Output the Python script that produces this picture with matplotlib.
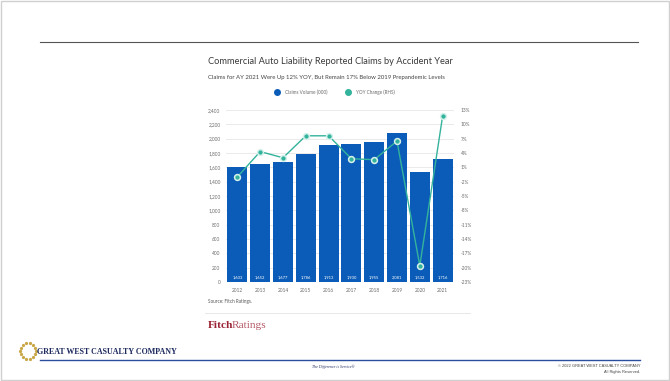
import numpy as np
import matplotlib.pyplot as plt
from matplotlib.ticker import FuncFormatter

# claims data by accident year
years = ["2012", "2013", "2014", "2015", "2016", "2017", "2018", "2019", "2020", "2021"]
claims_volume = [1603, 1652, 1677, 1786, 1913, 1930, 1955, 2081, 1532, 1716]
yoy_change = [-1.0, 4.3, 3.0, 7.6, 7.6, 2.8, 2.6, 6.5, -19.6, 11.7]

left_ticks = list(range(0, 2401, 200))
right_ticks = list(range(-23, 14, 3))

W, H = 670, 381
bar_blue = "#0b5cb8"
teal = "#34b39c"
grey_txt = "#6a6a6a"

fig = plt.figure(figsize=(W / 100, H / 100), dpi=100)
fig.patch.set_facecolor("white")

def px(x, y):
    return x / W, 1 - y / H

# slide frame and header rule
fig.add_artist(plt.Rectangle((0.002, 0.003), 0.996, 0.994, transform=fig.transFigure,
                             fill=False, edgecolor="#d0d0d0", lw=1))
fig.add_artist(plt.Line2D([px(40, 0)[0], px(638, 0)[0]], [px(0, 42)[1]] * 2,
                          color="#555555", lw=0.8))

# chart title block
fig.text(*px(208, 62), "Commercial Auto Liability Reported Claims by Accident Year",
         fontsize=6.7, family="Lato", color="#3a3a3a", va="center")
fig.text(*px(208, 78), "Claims for AY 2021 Were Up 12% YOY, But Remain 17% Below 2019 Prepandemic Levels",
         fontsize=4.3, family="Lato", color="#444444", va="center")
fig.add_artist(plt.Line2D([px(277, 0)[0]], [px(0, 92)[1]], marker="o", ms=4,
                          color=bar_blue, transform=fig.transFigure))
fig.text(*px(285, 92), "Claims Volume (000)", fontsize=3.3, family="Lato", color=grey_txt, va="center")
fig.add_artist(plt.Line2D([px(348, 0)[0]], [px(0, 92)[1]], marker="o", ms=4,
                          color=teal, transform=fig.transFigure))
fig.text(*px(356, 92), "YOY Change (RHS)", fontsize=3.3, family="Lato", color=grey_txt, va="center")

# main axes
x0, y0 = px(226, 282)
x1, y1 = px(454, 110)
ax = fig.add_axes([x0, y0, x1 - x0, y1 - y0])
x = np.arange(len(years))
ax.bar(x, claims_volume, width=0.88, color=bar_blue, zorder=2)
for xi, v in zip(x, claims_volume):
    ax.text(xi, 70, f"{v:,}", ha="center", va="center", color="white",
            fontsize=3.0, family="Lato", zorder=3)
ax.set_xlim(-0.5, len(years) - 0.5)
ax.set_ylim(0, 2400)
ax.set_yticks(left_ticks)
ax.yaxis.set_major_formatter(FuncFormatter(lambda v, p: f"{int(v):,}"))
ax.set_xticks(x)
ax.set_xticklabels(years)
ax.grid(axis="y", color="#e6e6e6", lw=0.6, zorder=0)
for s in ax.spines.values():
    s.set_visible(False)
ax.tick_params(length=0, labelsize=3.4, labelcolor=grey_txt, pad=4)
for lbl in ax.get_xticklabels() + ax.get_yticklabels():
    lbl.set_family("Lato")
ax.set_facecolor("none")

ax2 = ax.twinx()
ax2.plot(x, yoy_change, color=teal, lw=1.0, marker="o", ms=4.2,
         mfc=teal, mec="#d6f1ec", mew=1.1, zorder=4)
ax2.set_ylim(-23, 13)
ax2.set_yticks(right_ticks)
ax2.yaxis.set_major_formatter(FuncFormatter(lambda v, p: f"{int(v)}%"))
for s in ax2.spines.values():
    s.set_visible(False)
ax2.tick_params(length=0, labelsize=3.4, labelcolor=grey_txt, pad=5)
for lbl in ax2.get_yticklabels():
    lbl.set_family("Lato")

# source note and Fitch logo
fig.text(*px(208, 302), "Source: Fitch Ratings.", fontsize=3.3, family="Lato", color="#555555", va="center")
fig.add_artist(plt.Line2D([px(205, 0)[0], px(470, 0)[0]], [px(0, 313)[1]] * 2,
                          color="#e4e4e4", lw=0.6))
fig.text(*px(208, 326), "Fitch", fontsize=8.2, family="Liberation Serif", weight="bold",
         color="#9b2335", va="center")
fig.text(*px(232, 326), "Ratings", fontsize=8.2, family="Liberation Serif",
         color="#b55a68", va="center")

# footer: company mark, rule and notices
ang = np.linspace(0, 2 * np.pi, 14, endpoint=False)
cx, cy = 28, 351
fig.add_artist(plt.Line2D([px(cx + 8 * np.cos(a), 0)[0] for a in ang],
                          [px(0, cy + 8 * np.sin(a))[1] for a in ang],
                          ls="none", marker="o", ms=1.3, color="#c9a646",
                          transform=fig.transFigure))
fig.text(*px(37, 352), "GREAT WEST CASUALTY COMPANY", fontsize=5.8, family="Liberation Serif",
         weight="bold", color="#1d2a5e", va="center")
fig.add_artist(plt.Line2D([px(40, 0)[0], px(640, 0)[0]], [px(0, 360)[1]] * 2,
                          color="#2b4f9e", lw=1.0))
fig.text(*px(312, 367), "The Difference is Service\u00ae", fontsize=2.8, family="Liberation Serif",
         style="italic", color="#1d2a5e", va="center")
fig.text(*px(640, 366), "\u00a9 2022 GREAT WEST CASUALTY COMPANY", fontsize=2.9,
         family="Liberation Sans", color="#444444", ha="right", va="center")
fig.text(*px(640, 372), "All Rights Reserved.", fontsize=2.9,
         family="Liberation Sans", color="#444444", ha="right", va="center")

fig.savefig("out.png", dpi=100)
